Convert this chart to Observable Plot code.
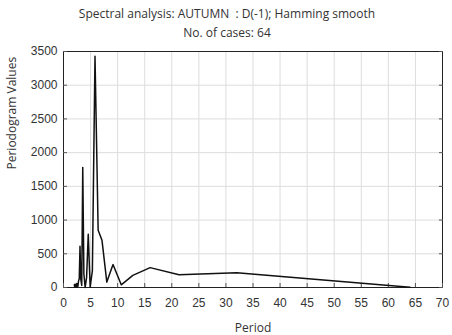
<!DOCTYPE html>
<html>
<head>
<meta charset="utf-8">
<script src="https://cdn.jsdelivr.net/npm/d3@7"></script>
<script src="https://cdn.jsdelivr.net/npm/@observablehq/plot@0.6"></script>
<style>
  body { margin: 0; background: #fff; }
  svg { display: block; }
</style>
</head>
<body>
<div id="chart"></div>
<script>
const periods = [64, 32, 21.333, 16, 12.8, 10.667, 9.143, 8, 7.111, 6.4, 5.818, 5.333, 4.923, 4.571, 4.267, 4, 3.765, 3.556, 3.368, 3.2, 3.048, 2.909, 2.783, 2.667, 2.56, 2.462, 2.37, 2.286, 2.207, 2.133, 2.065, 2.0];
const values = [5, 220, 190, 295, 180, 40, 340, 80, 700, 850, 3430, 250, 5, 790, 150, 0, 200, 1780, 30, 120, 610, 130, 100, 20, 10, 60, 30, 5, 20, 50, 10, 40];
const xTicks = [0, 5, 10, 15, 20, 25, 30, 35, 40, 45, 50, 55, 60, 65, 70];
const yTicks = [0, 500, 1000, 1500, 2000, 2500, 3000, 3500];
const titleLines = ["Spectral analysis: AUTUMN  : D(-1); Hamming smooth", "No. of cases: 64"];
const xLabel = "Period";
const yLabel = "Periodogram Values";

const data = periods.map((p, i) => ({period: p, value: values[i]}));
const labelFont = "'Open Sans', sans-serif";

const chart = Plot.plot({
  width: 452,
  height: 335,
  marginLeft: 63,
  marginRight: 10,
  marginTop: 51,
  marginBottom: 48,
  style: {fontFamily: "'Liberation Sans', Arial, sans-serif", fontSize: "12px", color: "#333"},
  x: {domain: [0, 70]},
  y: {domain: [0, 3500]},
  marks: [
    Plot.gridX(xTicks, {stroke: "#ddd", strokeOpacity: 1}),
    Plot.gridY(yTicks, {stroke: "#ddd", strokeOpacity: 1}),
    Plot.frame({stroke: "#222", strokeWidth: 1}),
    Plot.axisX({ticks: xTicks, tickSize: -4, tickPadding: 15, label: null, fontSize: 12, stroke: "#555"}),
    Plot.axisY({ticks: yTicks, tickSize: -4, tickPadding: 10, tickFormat: d3.format("d"), label: null, fontSize: 12, stroke: "#555"}),
    Plot.axisY({anchor: "right", ticks: yTicks, tickSize: -4, text: null, label: null, stroke: "#555"}),
    Plot.line(data, {x: "period", y: "value", stroke: "#111", strokeWidth: 1.5}),
    Plot.text([xLabel], {frameAnchor: "bottom", dy: 41, text: d => d, fontSize: 12, fontFamily: labelFont, fill: "#333", lineAnchor: "middle"}),
    Plot.text([yLabel], {frameAnchor: "left", dx: -51, rotate: -90, text: d => d, fontSize: 12, fontFamily: labelFont, fill: "#333", lineAnchor: "middle"}),
    Plot.text([titleLines[0]], {frameAnchor: "top", dy: -37, dx: -26, text: d => d, fontSize: 12, fontFamily: labelFont, fill: "#333", lineAnchor: "middle"}),
    Plot.text([titleLines[1]], {frameAnchor: "top", dy: -18, dx: -26, text: d => d, fontSize: 12, fontFamily: labelFont, fill: "#333", lineAnchor: "middle"})
  ]
});
document.getElementById("chart").append(chart);
</script>
</body>
</html>
